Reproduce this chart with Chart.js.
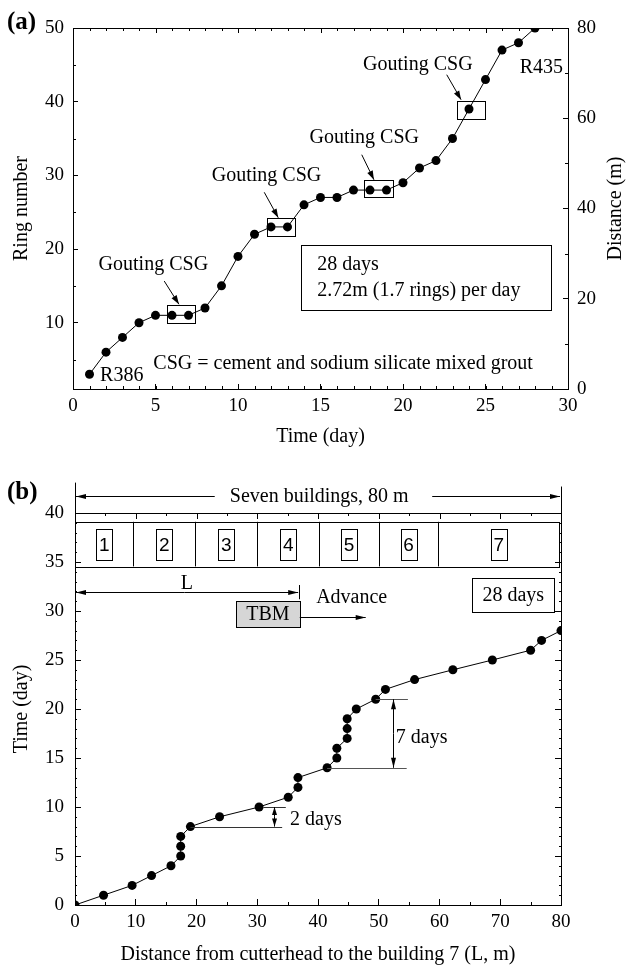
<!DOCTYPE html>
<html>
<head>
<meta charset="utf-8">
<script src="https://cdn.jsdelivr.net/npm/chart.js@4.4.1/dist/chart.umd.min.js"></script>
<style>
  html, body { margin: 0; padding: 0; background: #fff; }
  #wrapA { position: absolute; left: 0; top: 0; width: 627px; height: 450px; }
  #wrapB { position: absolute; left: 0; top: 450px; width: 627px; height: 515px; }
</style>
</head>
<body>
<div id="wrapA"><canvas id="chartA" width="627" height="450"></canvas></div>
<div id="wrapB"><canvas id="chartB" width="627" height="515"></canvas></div>
<script>
// ---- (a) ring number vs time ----
const days = [1,2,3,4,5,6,7,8,9,10,11,12,13,14,15,16,17,18,19,20,21,22,23,24,25,26,27,28];
const rings = [3,6,8,10,11,11,11,12,15,19,22,23,23,26,27,27,28,28,28,29,31,32,35,39,43,47,48,50];
const dayTicks = [0,5,10,15,20,25,30];
const ringTicks = [10,20,30,40,50];
const distTicksA = [0,20,40,60,80];

// ---- (b) time vs distance from cutterhead ----
const cutterDist = [0,4.7,9.4,12.6,15.8,17.4,17.4,17.4,19.0,23.8,30.3,35.1,36.7,36.7,41.5,43.1,43.1,44.8,44.8,44.8,46.3,49.5,51.1,55.9,62.2,68.7,75.0,76.8,80];
const timeDays = [0,1,2,3,4,5,6,7,8,9,10,11,12,13,14,15,16,17,18,19,20,21,22,23,24,25,26,27,28];
const distTicksB = [0,10,20,30,40,50,60,70,80];
const timeTicksB = [0,5,10,15,20,25,30,35,40];
const buildingEdges = [0,9.6,19.8,30.0,40.2,50.0,59.8,79.7];
const buildingNames = ['1','2','3','4','5','6','7'];

Chart.defaults.font.family = "'Liberation Serif', 'Times New Roman', serif";
Chart.defaults.font.size = 20;
Chart.defaults.color = '#000';

function range(a, b, step) {
  const out = [];
  for (let v = a; v <= b + 1e-9; v += step) out.push(v);
  return out;
}

function setTicks(list) {
  return function(scale) { scale.ticks = list.map(v => ({ value: v })); };
}

function crisp(v) { return Math.round(v) + 0.5; }

function line(ctx, x1, y1, x2, y2) {
  ctx.beginPath();
  ctx.moveTo(x1, y1);
  ctx.lineTo(x2, y2);
  ctx.stroke();
}

function box(ctx, x1, y1, x2, y2, fill) {
  const l = crisp(Math.min(x1, x2)), t = crisp(Math.min(y1, y2));
  const w = Math.round(Math.abs(x2 - x1)), h = Math.round(Math.abs(y2 - y1));
  if (fill) { ctx.fillStyle = fill; ctx.fillRect(l, t, w, h); ctx.fillStyle = '#000'; }
  ctx.strokeRect(l, t, w, h);
}

function head(ctx, x1, y1, x2, y2, len, half) {
  const ang = Math.atan2(y2 - y1, x2 - x1);
  const c = Math.cos(ang), s = Math.sin(ang);
  ctx.beginPath();
  ctx.moveTo(x2, y2);
  ctx.lineTo(x2 - len * c + half * s, y2 - len * s - half * c);
  ctx.lineTo(x2 - len * c - half * s, y2 - len * s + half * c);
  ctx.closePath();
  ctx.fill();
}

function arrow(ctx, x1, y1, x2, y2, len, half) {
  line(ctx, x1, y1, x2, y2);
  head(ctx, x1, y1, x2, y2, len || 9, half || 3);
}

function text(ctx, str, x, y, align, font) {
  ctx.font = font || "20px 'Liberation Serif', serif";
  ctx.textAlign = align || 'left';
  ctx.textBaseline = 'middle';
  ctx.fillText(str, x, y);
}

// small inward tick marks (minor ticks and mirrored ticks on the frame)
function tickMarks(chart, id, values, len, sides) {
  const s = chart.scales[id], a = chart.chartArea, ctx = chart.ctx;
  ctx.beginPath();
  values.forEach(v => {
    const p = crisp(s.getPixelForValue(v));
    sides.forEach(side => {
      if (side === 'bottom') { ctx.moveTo(p, a.bottom); ctx.lineTo(p, a.bottom - len); }
      if (side === 'top') { ctx.moveTo(p, a.top); ctx.lineTo(p, a.top + len); }
      if (side === 'left') { ctx.moveTo(a.left, p); ctx.lineTo(a.left + len, p); }
      if (side === 'right') { ctx.moveTo(a.right, p); ctx.lineTo(a.right - len, p); }
    });
  });
  ctx.stroke();
}

function axisOpts(extra) {
  const base = {
    type: 'linear',
    grid: { drawOnChartArea: false, color: '#000', tickColor: '#000', tickLength: -5 },
    border: { display: true, color: '#000', width: 1 },
    ticks: { color: '#000', font: { size: 19 }, maxRotation: 0, autoSkip: false }
  };
  return Object.assign(base, extra);
}

const annotA = {
  id: 'annotA',
  afterDraw(chart) {
    const ctx = chart.ctx, a = chart.chartArea;
    const X = v => chart.scales.x.getPixelForValue(v);
    const Y = v => chart.scales.y.getPixelForValue(v);
    ctx.save();
    ctx.strokeStyle = '#000';
    ctx.fillStyle = '#000';
    ctx.lineWidth = 1;
    line(ctx, a.left, crisp(a.top), a.right, crisp(a.top));
    tickMarks(chart, 'x', range(0, 30, 1), 3, ['bottom', 'top']);
    tickMarks(chart, 'x', dayTicks, 5, ['top']);
    tickMarks(chart, 'y', range(5, 45, 10), 3, ['left']);
    tickMarks(chart, 'y2', range(10, 70, 20), 3, ['right']);

    // grouting boxes, labels and arrows
    box(ctx, X(5.7), Y(12.4), X(7.4), Y(10.0));
    box(ctx, X(11.74), Y(24.2), X(13.45), Y(21.8));
    box(ctx, X(17.65), Y(29.4), X(19.41), Y(27.1));
    box(ctx, X(23.25), Y(40.1), X(24.97), Y(37.7));
    text(ctx, 'Gouting CSG', X(4.87), Y(17.9), 'center');
    text(ctx, 'Gouting CSG', X(11.73), Y(30.0), 'center');
    text(ctx, 'Gouting CSG', X(17.65), Y(35.1), 'center');
    text(ctx, 'Gouting CSG', X(20.9), Y(45.0), 'center');
    arrow(ctx, X(5.53), Y(15.65), X(6.42), Y(12.5));
    arrow(ctx, X(11.59), Y(27.7), X(12.44), Y(24.25));
    arrow(ctx, X(17.5), Y(32.8), X(18.24), Y(29.4));
    arrow(ctx, X(22.65), Y(43.66), X(23.52), Y(40.27));

    text(ctx, 'R386', X(1.64), Y(2.78), 'left');
    text(ctx, 'R435', X(29.7), Y(44.57), 'right');

    box(ctx, X(13.82), Y(20.6), X(29.0), Y(11.8));
    text(ctx, '28 days', X(14.8), Y(17.82), 'left');
    text(ctx, '2.72m (1.7 rings) per day', X(14.8), Y(14.3), 'left');
    text(ctx, 'CSG = cement and sodium silicate mixed grout', X(4.87), Y(4.36), 'left');

    // right axis title reads bottom to top
    ctx.save();
    ctx.translate(616, (a.top + a.bottom) / 2);
    ctx.rotate(-Math.PI / 2);
    text(ctx, 'Distance (m)', 0, 0, 'center');
    ctx.restore();

    text(ctx, '(a)', 7, 23, 'left', "bold 25px 'Liberation Serif', serif");
    ctx.restore();
  }
};

const annotB = {
  id: 'annotB',
  afterDraw(chart) {
    const ctx = chart.ctx, a = chart.chartArea;
    const X = v => chart.scales.x.getPixelForValue(v);
    const Y = v => chart.scales.y.getPixelForValue(v);
    ctx.save();
    ctx.strokeStyle = '#000';
    ctx.fillStyle = '#000';
    ctx.lineWidth = 1;
    line(ctx, a.left, crisp(a.top), a.right, crisp(a.top));
    line(ctx, crisp(a.right), a.top, crisp(a.right), a.bottom);
    tickMarks(chart, 'x', range(5, 75, 10), 3, ['bottom', 'top']);
    tickMarks(chart, 'x', distTicksB, 6, ['top']);
    tickMarks(chart, 'y', range(0, 40, 1), 2, ['left', 'right']);
    tickMarks(chart, 'y', timeTicksB, 6, ['right']);

    // seven buildings span
    const ys = Y(41.7);
    line(ctx, crisp(X(0)), Y(43.1), crisp(X(0)), Y(39.9));
    line(ctx, crisp(X(80)), Y(42.7), crisp(X(80)), Y(40));
    arrow(ctx, X(23.0), crisp(ys), X(0) + 1, crisp(ys), 10, 2.5);
    arrow(ctx, X(58.8), crisp(ys), X(80) - 1, crisp(ys), 10, 2.5);
    text(ctx, 'Seven buildings, 80 m', X(40.2), ys, 'center');

    // building row
    box(ctx, X(0), Y(39.1), X(79.7), Y(34.55));
    buildingEdges.slice(1, -1).forEach(e => line(ctx, crisp(X(e)), Y(39.1), crisp(X(e)), Y(34.55)));
    buildingNames.forEach((n, i) => {
      const cx = X((buildingEdges[i] + buildingEdges[i + 1]) / 2), cy = Y(36.8);
      box(ctx, cx - 8, cy - 15, cx + 8, cy + 16);
      text(ctx, n, cx, cy + 1, 'center', "19px 'Liberation Sans', Arial, sans-serif");
    });

    // L
    const yl = crisp(Y(31.9));
    line(ctx, crisp(X(36.9)), Y(32.65), crisp(X(36.9)), Y(31.2));
    arrow(ctx, X(18), yl, X(0) + 1, yl, 10, 2.5);
    arrow(ctx, X(18), yl, X(36.9) - 1, yl, 10, 2.5);
    text(ctx, 'L', X(18.4), Y(32.75), 'center');

    // TBM
    box(ctx, X(26.5), Y(30.99), X(37.0), Y(28.29), '#d6d6d6');
    text(ctx, 'TBM', X(31.75), Y(29.6), 'center');
    arrow(ctx, X(37.0), crisp(Y(29.42)), X(47.85), crisp(Y(29.42)), 10, 2.5);
    text(ctx, 'Advance', X(39.7), Y(31.33), 'left');

    box(ctx, X(65.4), Y(33.33), X(78.9), Y(29.86));
    text(ctx, '28 days', X(72.15), Y(31.6), 'center');

    // 2 days
    ctx.strokeStyle = '#333';
    line(ctx, X(19.0), crisp(Y(8)), X(34.1), crisp(Y(8)));
    line(ctx, X(31.0), crisp(Y(10)), X(34.7), crisp(Y(10)));
    ctx.strokeStyle = '#000';
    const x2d = crisp(X(32.8));
    arrow(ctx, x2d, Y(9), x2d, Y(10), 8, 2.5);
    arrow(ctx, x2d, Y(9), x2d, Y(8), 8, 2.5);
    text(ctx, '2 days', X(35.4), Y(8.74), 'left');

    // 7 days
    ctx.strokeStyle = '#555';
    line(ctx, X(41.5), crisp(Y(14)), X(54.6), crisp(Y(14)));
    line(ctx, X(49.5), crisp(Y(21)), X(54.8), crisp(Y(21)));
    ctx.strokeStyle = '#000';
    const x7d = crisp(X(52.3));
    arrow(ctx, x7d, Y(17.5), x7d, Y(21), 10, 2.5);
    arrow(ctx, x7d, Y(17.5), x7d, Y(14), 10, 2.5);
    text(ctx, '7 days', X(52.8), Y(17.07), 'left');

    text(ctx, '(b)', 7, 43, 'left', "bold 25px 'Liberation Serif', serif");
    ctx.restore();
  }
};

new Chart(document.getElementById('chartA'), {
  type: 'scatter',
  data: {
    datasets: [{
      data: days.map((d, i) => ({ x: d, y: rings[i] })),
      showLine: true,
      borderColor: '#000',
      borderWidth: 1,
      pointRadius: 4.5,
      pointBackgroundColor: '#000',
      pointBorderWidth: 0,
      clip: 0
    }]
  },
  options: {
    responsive: false,
    animation: false,
    devicePixelRatio: 1,
    layout: { padding: { top: 28, left: 0, right: 0, bottom: 0 } },
    plugins: { legend: { display: false }, tooltip: { enabled: false } },
    scales: {
      x: axisOpts({
        position: 'bottom', min: 0, max: 30,
        afterBuildTicks: setTicks(dayTicks),
        afterFit: s => { s.height = 61; },
        ticks: { color: '#000', font: { size: 19 }, maxRotation: 0, autoSkip: false, padding: 11 },
        title: { display: true, text: 'Time (day)', color: '#000', font: { size: 20 }, padding: { top: 0, bottom: 1 } }
      }),
      y: axisOpts({
        position: 'left', min: 1, max: 50,
        afterBuildTicks: setTicks(ringTicks),
        afterFit: s => { s.width = 73; },
        ticks: { color: '#000', font: { size: 19 }, autoSkip: false, padding: 14 },
        title: { display: true, text: 'Ring number', color: '#000', font: { size: 20 }, padding: { top: 10, bottom: 0 } }
      }),
      y2: axisOpts({
        position: 'right', min: 0, max: 80,
        afterBuildTicks: setTicks(distTicksA),
        afterFit: s => { s.width = 59; },
        ticks: { color: '#000', font: { size: 19 }, autoSkip: false, padding: 14 }
      })
    }
  },
  plugins: [annotA]
});

new Chart(document.getElementById('chartB'), {
  type: 'scatter',
  data: {
    datasets: [{
      data: cutterDist.map((d, i) => ({ x: d, y: timeDays[i] })),
      showLine: true,
      borderColor: '#000',
      borderWidth: 1,
      pointRadius: 4.5,
      pointBackgroundColor: '#000',
      pointBorderWidth: 0,
      clip: 0
    }]
  },
  options: {
    responsive: false,
    animation: false,
    devicePixelRatio: 1,
    layout: { padding: { top: 63, left: 0, right: 66, bottom: 0 } },
    plugins: { legend: { display: false }, tooltip: { enabled: false } },
    scales: {
      x: axisOpts({
        position: 'bottom', min: 0, max: 80,
        afterBuildTicks: setTicks(distTicksB),
        afterFit: s => { s.height = 60; },
        grid: { drawOnChartArea: false, color: '#000', tickColor: '#000', tickLength: -6 },
        ticks: { color: '#000', font: { size: 19 }, maxRotation: 0, autoSkip: false, padding: 12 },
        title: { display: true, text: 'Distance from cutterhead to the building 7 (L, m)', color: '#000', font: { size: 20, lineHeight: 1 }, padding: { top: 0, bottom: 0 } }
      }),
      y: axisOpts({
        position: 'left', min: 0, max: 40,
        afterBuildTicks: setTicks(timeTicksB),
        afterFit: s => { s.width = 75; },
        grid: { drawOnChartArea: false, color: '#000', tickColor: '#000', tickLength: -6 },
        ticks: { color: '#000', font: { size: 19 }, autoSkip: false, padding: 17 },
        title: { display: true, text: 'Time (day)', color: '#000', font: { size: 20 }, padding: { top: 10, bottom: 0 } }
      })
    }
  },
  plugins: [annotB]
});
</script>
</body>
</html>
